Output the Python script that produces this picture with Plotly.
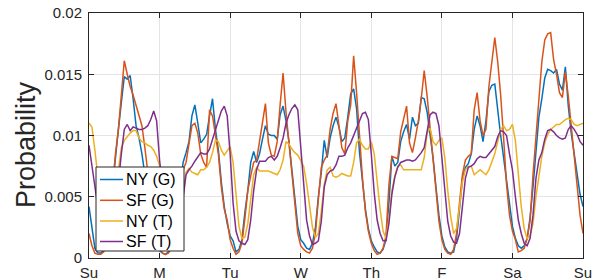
import plotly.graph_objects as go

hours = list(range(169))
day_ticks = [0, 24, 48, 72, 96, 120, 144, 168]
day_labels = ["Su", "M", "Tu", "W", "Th", "F", "Sa", "Su"]
y_ticks = [0, 0.005, 0.01, 0.015, 0.02]
y_labels = ["0", "0.005", "0.01", "0.015", "0.02"]

ny_g = [
    0.0042, 0.0026, 0.0008, 0.0004, 0.0004, 0.0006, 0.0015, 0.0035, 0.0060, 0.0085, 0.0105, 0.0127,
    0.0148, 0.0146, 0.0149, 0.0130, 0.0108, 0.0098, 0.0085, 0.0068, 0.0050, 0.0033, 0.0020, 0.0011,
    0.0006, 0.0004, 0.0003, 0.0005, 0.0010, 0.0020, 0.0038, 0.0060, 0.0078, 0.0086, 0.0095, 0.0116,
    0.0125, 0.0110, 0.0094, 0.0097, 0.0101, 0.0116, 0.0130, 0.0105, 0.0088, 0.0062, 0.0042, 0.0028,
    0.0018, 0.0014, 0.0005, 0.0007, 0.0015, 0.0037, 0.0055, 0.0078, 0.0087, 0.0078, 0.0085, 0.0097,
    0.0108, 0.0101, 0.0100, 0.0100, 0.0097, 0.0117, 0.0124, 0.0112, 0.0095, 0.0072, 0.0048, 0.0026,
    0.0015, 0.0012, 0.0008, 0.0007, 0.0012, 0.0025, 0.0050, 0.0070, 0.0096, 0.0082, 0.0098, 0.0108,
    0.0115, 0.0107, 0.0095, 0.0098, 0.0115, 0.0134, 0.0138, 0.0122, 0.0086, 0.0062, 0.0040, 0.0024,
    0.0014, 0.0009, 0.0005, 0.0004, 0.0007, 0.0015, 0.0045, 0.0083, 0.0075, 0.0078, 0.0095, 0.0103,
    0.0109, 0.0097, 0.0115, 0.0108, 0.0110, 0.0131, 0.0130, 0.0119, 0.0102, 0.0082, 0.0058, 0.0035,
    0.0018, 0.0009, 0.0005, 0.0004, 0.0005, 0.0016, 0.0040, 0.0065, 0.0074, 0.0077, 0.0085, 0.0105,
    0.0116, 0.0108, 0.0095, 0.0112, 0.0136, 0.0141, 0.0142, 0.0118, 0.0100, 0.0082, 0.0062, 0.0045,
    0.0026, 0.0016, 0.0010, 0.0008, 0.0010, 0.0016, 0.0033, 0.0058, 0.0088, 0.0115, 0.0130, 0.0147,
    0.0154, 0.0153, 0.0151, 0.0154, 0.0142, 0.0137, 0.0156, 0.0124, 0.0102, 0.0084, 0.0066, 0.0052,
    0.0042,
]

sf_g = [
    0.0020, 0.0010, 0.0004, 0.0003, 0.0003, 0.0005, 0.0012, 0.0030, 0.0058, 0.0085, 0.0105, 0.0135,
    0.0161, 0.0150, 0.0140, 0.0133, 0.0125, 0.0118, 0.0108, 0.0090, 0.0070, 0.0050, 0.0030, 0.0016,
    0.0008, 0.0004, 0.0003, 0.0004, 0.0008, 0.0018, 0.0035, 0.0055, 0.0072, 0.0078, 0.0095, 0.0108,
    0.0110, 0.0102, 0.0085, 0.0078, 0.0074, 0.0121, 0.0116, 0.0100, 0.0085, 0.0058, 0.0040, 0.0031,
    0.0015, 0.0008, 0.0003, 0.0005, 0.0012, 0.0032, 0.0055, 0.0067, 0.0078, 0.0080, 0.0095, 0.0113,
    0.0126, 0.0094, 0.0084, 0.0083, 0.0095, 0.0125, 0.0151, 0.0119, 0.0095, 0.0072, 0.0042, 0.0020,
    0.0010, 0.0007, 0.0005, 0.0004, 0.0008, 0.0020, 0.0048, 0.0074, 0.0080, 0.0084, 0.0105, 0.0118,
    0.0126, 0.0110, 0.0090, 0.0085, 0.0112, 0.0125, 0.0165, 0.0135, 0.0095, 0.0065, 0.0038, 0.0022,
    0.0012, 0.0006, 0.0003, 0.0004, 0.0008, 0.0018, 0.0060, 0.0083, 0.0082, 0.0081, 0.0103, 0.0115,
    0.0124, 0.0094, 0.0086, 0.0098, 0.0112, 0.0130, 0.0153, 0.0132, 0.0105, 0.0080, 0.0055, 0.0030,
    0.0015, 0.0007, 0.0004, 0.0003, 0.0007, 0.0020, 0.0045, 0.0068, 0.0080, 0.0083, 0.0085, 0.0121,
    0.0135, 0.0112, 0.0100, 0.0105, 0.0140, 0.0158, 0.0180, 0.0160, 0.0133, 0.0098, 0.0060, 0.0035,
    0.0022, 0.0015, 0.0005, 0.0006, 0.0008, 0.0016, 0.0030, 0.0068, 0.0098, 0.0125, 0.0160, 0.0178,
    0.0183, 0.0184, 0.0162, 0.0150, 0.0135, 0.0131, 0.0152, 0.0132, 0.0108, 0.0085, 0.0060, 0.0035,
    0.0020,
]

ny_t = [
    0.0110, 0.0107, 0.0088, 0.0065, 0.0045, 0.0030, 0.0020, 0.0018, 0.0025, 0.0045, 0.0072, 0.0090,
    0.0096, 0.0099, 0.0102, 0.0104, 0.0104, 0.0098, 0.0095, 0.0094, 0.0092, 0.0091, 0.0088, 0.0083,
    0.0075, 0.0062, 0.0045, 0.0030, 0.0020, 0.0016, 0.0020, 0.0035, 0.0055, 0.0070, 0.0073, 0.0070,
    0.0069, 0.0068, 0.0072, 0.0072, 0.0074, 0.0078, 0.0086, 0.0096, 0.0095, 0.0088, 0.0084, 0.0088,
    0.0091, 0.0078, 0.0050, 0.0026, 0.0016, 0.0017, 0.0028, 0.0048, 0.0068, 0.0074, 0.0071, 0.0071,
    0.0071, 0.0071, 0.0070, 0.0069, 0.0068, 0.0072, 0.0080, 0.0095, 0.0093, 0.0089, 0.0086, 0.0084,
    0.0080, 0.0075, 0.0061, 0.0042, 0.0025, 0.0017, 0.0020, 0.0038, 0.0060, 0.0072, 0.0074, 0.0067,
    0.0066, 0.0067, 0.0069, 0.0068, 0.0067, 0.0067, 0.0078, 0.0094, 0.0097, 0.0092, 0.0089, 0.0089,
    0.0095, 0.0085, 0.0062, 0.0040, 0.0022, 0.0016, 0.0032, 0.0055, 0.0067, 0.0075, 0.0076, 0.0072,
    0.0072, 0.0072, 0.0072, 0.0072, 0.0072, 0.0072, 0.0082, 0.0102, 0.0106, 0.0095, 0.0092, 0.0096,
    0.0098, 0.0082, 0.0055, 0.0034, 0.0020, 0.0024, 0.0042, 0.0062, 0.0072, 0.0075, 0.0075, 0.0068,
    0.0070, 0.0072, 0.0070, 0.0068, 0.0072, 0.0078, 0.0085, 0.0095, 0.0105, 0.0108, 0.0104, 0.0105,
    0.0109, 0.0096, 0.0068, 0.0042, 0.0024, 0.0016, 0.0018, 0.0028, 0.0050, 0.0068, 0.0083, 0.0094,
    0.0101, 0.0105, 0.0107, 0.0109, 0.0109, 0.0111, 0.0113, 0.0114, 0.0113, 0.0109, 0.0108, 0.0109,
    0.0110,
]

sf_t = [
    0.0092, 0.0075, 0.0055, 0.0038, 0.0025, 0.0016, 0.0012, 0.0014, 0.0025, 0.0045, 0.0062, 0.0085,
    0.0105, 0.0109, 0.0104, 0.0107, 0.0106, 0.0105, 0.0105, 0.0106, 0.0108, 0.0113, 0.0120, 0.0112,
    0.0080, 0.0055, 0.0035, 0.0020, 0.0014, 0.0012, 0.0018, 0.0030, 0.0050, 0.0068, 0.0072, 0.0075,
    0.0079, 0.0083, 0.0086, 0.0085, 0.0085, 0.0089, 0.0097, 0.0105, 0.0113, 0.0120, 0.0124, 0.0116,
    0.0085, 0.0045, 0.0022, 0.0014, 0.0012, 0.0011, 0.0015, 0.0031, 0.0055, 0.0072, 0.0079, 0.0079,
    0.0079, 0.0082, 0.0083, 0.0080, 0.0083, 0.0090, 0.0098, 0.0110, 0.0117, 0.0122, 0.0125, 0.0121,
    0.0090, 0.0055, 0.0031, 0.0018, 0.0011, 0.0012, 0.0014, 0.0030, 0.0058, 0.0068, 0.0071, 0.0072,
    0.0076, 0.0083, 0.0083, 0.0084, 0.0090, 0.0094, 0.0100, 0.0106, 0.0113, 0.0118, 0.0119, 0.0113,
    0.0085, 0.0053, 0.0031, 0.0020, 0.0014, 0.0014, 0.0028, 0.0052, 0.0066, 0.0074, 0.0078, 0.0079,
    0.0080, 0.0080, 0.0079, 0.0080, 0.0083, 0.0086, 0.0090, 0.0102, 0.0117, 0.0119, 0.0118, 0.0108,
    0.0080, 0.0052, 0.0030, 0.0018, 0.0013, 0.0012, 0.0020, 0.0042, 0.0065, 0.0074, 0.0075, 0.0077,
    0.0081, 0.0083, 0.0082, 0.0082, 0.0085, 0.0088, 0.0091, 0.0099, 0.0104, 0.0103, 0.0100, 0.0085,
    0.0072, 0.0050, 0.0031, 0.0020, 0.0012, 0.0010, 0.0016, 0.0035, 0.0065, 0.0080, 0.0086, 0.0097,
    0.0104, 0.0105, 0.0103, 0.0100, 0.0098, 0.0097, 0.0098, 0.0105, 0.0108, 0.0105, 0.0101, 0.0095,
    0.0092,
]

series_names = ["NY (G)", "SF (G)", "NY (T)", "SF (T)"]
series_values = [ny_g, sf_g, ny_t, sf_t]
series_colors = ["#0072BD", "#D95319", "#EDB120", "#7E2F8E"]

FONT = "Liberation Sans, Arial, Helvetica, sans-serif"
AX = "#262626"
GRID = "#e4e4e4"

# plot area in page pixels
PX0, PX1, PY0, PY1 = 89, 583, 13, 258


def xp(px):
    return (px - PX0) / (PX1 - PX0)


def yp(py):
    return (PY1 - py) / (PY1 - PY0)


fig = go.Figure()
for name, vals, color in zip(series_names, series_values, series_colors):
    fig.add_trace(go.Scatter(x=hours, y=vals, mode="lines", name=name,
                             line=dict(color=color, width=1.5), showlegend=False))

axis_common = dict(
    showgrid=True, gridcolor=GRID, gridwidth=1,
    showline=True, linecolor=AX, linewidth=1, mirror="ticks",
    ticks="inside", ticklen=5, tickcolor=AX, tickwidth=1,
    tickfont=dict(family=FONT, size=15, color=AX),
    zeroline=False, automargin=False, ticklabeloverflow="allow",
)

# legend box drawn as layout decoration
shapes = [dict(type="rect", xref="paper", yref="paper",
               x0=xp(96), x1=xp(184), y0=yp(251), y1=yp(167),
               fillcolor="white", line=dict(color=AX, width=1), layer="above")]
annotations = []
row_y = [179.5, 200.3, 221.0, 241.5]
for name, color, ry in zip(series_names, series_colors, row_y):
    shapes.append(dict(type="line", xref="paper", yref="paper",
                       x0=xp(100), x1=xp(123), y0=yp(ry), y1=yp(ry),
                       line=dict(color=color, width=1.5), layer="above"))
    annotations.append(dict(text=name, x=xp(123.5), y=yp(ry), xref="paper", yref="paper",
                            xanchor="left", yanchor="middle", showarrow=False,
                            font=dict(family=FONT, size=16, color="black")))

annotations.append(dict(text="Probability", textangle=-90, x=xp(26), y=yp(144),
                        xref="paper", yref="paper", showarrow=False,
                        xanchor="center", yanchor="middle",
                        font=dict(family=FONT, size=27, color=AX)))

fig.update_layout(
    width=603, height=280,
    margin=dict(l=PX0, r=603 - PX1, t=PY0, b=280 - PY1, autoexpand=False),
    paper_bgcolor="white", plot_bgcolor="white",
    font=dict(family=FONT, color=AX),
    xaxis=dict(range=[0, 168], tickmode="array", tickvals=day_ticks, ticktext=day_labels,
               ticklabelstandoff=1, **axis_common),
    yaxis=dict(range=[0, 0.02], tickmode="array", tickvals=y_ticks, ticktext=y_labels,
               ticklabelstandoff=3, **axis_common),
    showlegend=False,
    shapes=shapes,
    annotations=annotations,
)

fig.write_html("out.html", config={"displayModeBar": False},
               post_script="document.body.style.margin='0';")
